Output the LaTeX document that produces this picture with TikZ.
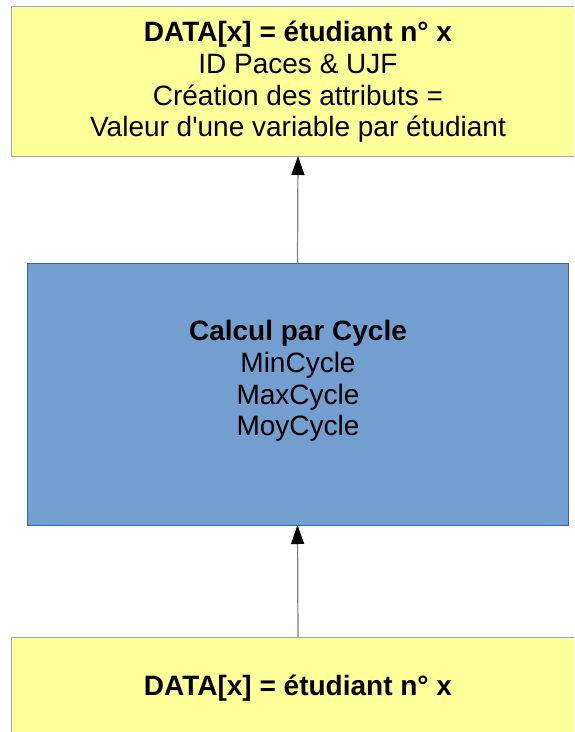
\documentclass[tikz,border=0pt]{standalone}
\usepackage{fontspec}
\setmainfont{Liberation Sans}
\usetikzlibrary{arrows.meta}
\definecolor{jaune}{HTML}{FFFF99}
\definecolor{bordjaune}{HTML}{8FA6C6}
\definecolor{bleu}{HTML}{729FCF}
\definecolor{bordbleu}{HTML}{3465A4}
\begin{document}
\begin{tikzpicture}[x=1pt,y=-1pt,
    blocjaune/.style={draw=bordjaune,fill=jaune,line width=0.8pt,inner sep=0pt,outer sep=0pt},
    blocbleu/.style={draw=bordbleu,fill=bleu,line width=0.8pt,inner sep=0pt,outer sep=0pt},
    texte/.style={align=center,font=\fontsize{28}{31.7}\selectfont,inner sep=0pt},
    fleche/.style={-{Triangle[length=19pt,width=13pt,color=black]},draw=gray,line width=1.2pt}]
  \useasboundingbox (0,0) rectangle (574,732);
  \clip (0,0) rectangle (574,732);

  \node[blocjaune,minimum width=574pt,minimum height=150pt] (data) at (298,81) {};
  \node[texte] (datatxt) at (298,82) {\textbf{DATA[x] = étudiant n° x}\\ID Paces \& UJF\\Création des attributs =\\Valeur d\textquotesingle une variable par étudiant};

  \node[blocbleu,minimum width=541pt,minimum height=262pt] (calcul) at (297.5,394) {};
  \node[texte] (calcultxt) at (298,381) {\textbf{Calcul par Cycle}\\MinCycle\\MaxCycle\\MoyCycle};

  \node[blocjaune,minimum width=574pt,minimum height=200pt] (entree) at (298,737) {};
  \node[texte] (entreetxt) at (298,688) {\textbf{DATA[x] = étudiant n° x}};

  \draw[fleche] (calcul.north) -- (data.south);
  \draw[fleche] (entree.north) -- (calcul.south);
\end{tikzpicture}
\end{document}
